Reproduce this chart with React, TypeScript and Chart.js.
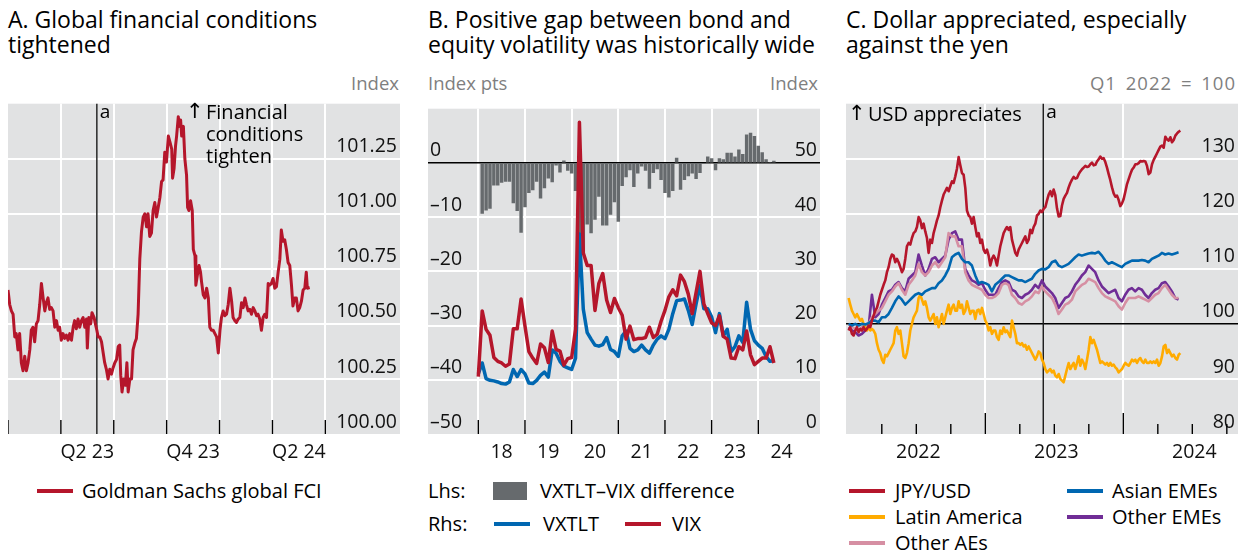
import React, { useEffect, useRef } from "react";
import { Chart, registerables } from "chart.js";

Chart.register(...registerables);

const FONT = '"Open Sans", "Noto Sans", sans-serif';
const ARROW_FONT = '"DejaVu Sans", "Open Sans", sans-serif';
const BG = "rgb(225,226,227)";
const RED = "rgb(181,22,43)";
const BLUE = "rgb(0,103,177)";
const ORANGE = "rgb(255,171,0)";
const PURPLE = "rgb(112,45,150)";
const PINK = "rgb(214,143,163)";
const GREYBAR = "rgb(102,106,109)";
const TICK_FONT = { family: FONT, size: 19.5 };

// ---------------- Panel A: Goldman Sachs global FCI (decimal year, index) ----------------
const fciDates = [
  2023.000, 2023.008, 2023.016, 2023.024, 2023.032, 2023.039, 2023.047, 2023.055, 2023.063, 2023.071,
  2023.079, 2023.087, 2023.095, 2023.103, 2023.110, 2023.118, 2023.126, 2023.134, 2023.142, 2023.150,
  2023.158, 2023.166, 2023.174, 2023.181, 2023.189, 2023.197, 2023.205, 2023.213, 2023.221, 2023.229,
  2023.237, 2023.244, 2023.252, 2023.260, 2023.268, 2023.276, 2023.284, 2023.292, 2023.300, 2023.308,
  2023.315, 2023.323, 2023.331, 2023.339, 2023.347, 2023.355, 2023.363, 2023.371,
  2023.375, 2023.382, 2023.391, 2023.397, 2023.407, 2023.413, 2023.420,
  2023.426, 2023.434, 2023.442, 2023.450, 2023.457, 2023.465, 2023.473, 2023.481, 2023.489, 2023.497,
  2023.505, 2023.513, 2023.521, 2023.528,
  2023.533, 2023.539, 2023.547, 2023.555, 2023.562, 2023.568,
  2023.576, 2023.584, 2023.591, 2023.599, 2023.607, 2023.615, 2023.623, 2023.631, 2023.639, 2023.647,
  2023.655, 2023.662, 2023.670, 2023.678, 2023.686, 2023.694, 2023.702, 2023.710, 2023.718, 2023.726,
  2023.733, 2023.741, 2023.749,
  2023.758, 2023.766, 2023.774, 2023.778, 2023.785, 2023.792, 2023.797, 2023.805, 2023.810, 2023.816,
  2023.821, 2023.829, 2023.836, 2023.844, 2023.849, 2023.855, 2023.863, 2023.871, 2023.876, 2023.884,
  2023.888, 2023.895, 2023.903, 2023.910, 2023.915,
  2023.923, 2023.931, 2023.939, 2023.947, 2023.954, 2023.962, 2023.970, 2023.978, 2023.986, 2023.994,
  2024.002, 2024.009, 2024.017, 2024.025, 2024.033, 2024.041, 2024.049, 2024.057, 2024.064, 2024.072,
  2024.080, 2024.088, 2024.096, 2024.104, 2024.112, 2024.120, 2024.127, 2024.135, 2024.143, 2024.151,
  2024.159, 2024.167, 2024.175, 2024.182, 2024.190, 2024.198, 2024.206, 2024.214, 2024.222, 2024.230,
  2024.237, 2024.245, 2024.253, 2024.261, 2024.269, 2024.277, 2024.285, 2024.292, 2024.300, 2024.308,
  2024.316, 2024.324, 2024.332, 2024.340, 2024.347, 2024.355, 2024.363, 2024.371, 2024.379, 2024.387,
  2024.395, 2024.403, 2024.410, 2024.415, 2024.426,
];
const fciValues = [
  100.654, 100.588, 100.559, 100.544, 100.441, 100.456, 100.382, 100.456, 100.324, 100.287,
  100.353, 100.287, 100.324, 100.382, 100.471, 100.485, 100.419, 100.500, 100.515, 100.588,
  100.684, 100.618, 100.559, 100.596, 100.618, 100.566, 100.574, 100.559, 100.485, 100.515,
  100.471, 100.485, 100.426, 100.456, 100.434, 100.449, 100.426, 100.456, 100.426, 100.485,
  100.515, 100.478, 100.522, 100.485, 100.515, 100.529, 100.485, 100.522,
  100.390, 100.529, 100.500, 100.551, 100.529, 100.500, 100.471,
  100.441, 100.441, 100.419, 100.368, 100.324, 100.294, 100.250, 100.294, 100.272, 100.301,
  100.324, 100.338, 100.397, 100.404,
  100.265, 100.191, 100.250, 100.221, 100.324, 100.191,
  100.250, 100.250, 100.382, 100.412, 100.434, 100.544, 100.794, 100.919, 100.985, 101.000,
  100.941, 101.000, 100.897, 100.912, 101.015, 101.051, 100.985, 101.029, 101.074, 101.147,
  101.154, 101.279, 101.235,
  101.353, 101.324, 101.294, 101.162, 101.206, 101.309, 101.353, 101.441, 101.397, 101.426,
  101.353, 101.397, 101.250, 101.176, 101.029, 101.015, 101.059, 101.015, 100.838, 100.809,
  100.676, 100.721, 100.765, 100.735, 100.691,
  100.632, 100.618, 100.662, 100.618, 100.485, 100.471, 100.471, 100.456, 100.441, 100.368,
  100.471, 100.529, 100.559, 100.537, 100.544, 100.588, 100.662, 100.603, 100.529, 100.515,
  100.507, 100.522, 100.529, 100.596, 100.574, 100.618, 100.588, 100.559, 100.566, 100.544,
  100.574, 100.559, 100.537, 100.544, 100.522, 100.471, 100.529, 100.544, 100.529, 100.684,
  100.676, 100.684, 100.706, 100.662, 100.669, 100.735, 100.794, 100.926, 100.875, 100.882,
  100.838, 100.779, 100.765, 100.676, 100.581, 100.618, 100.618, 100.559, 100.574, 100.603,
  100.654, 100.662, 100.735, 100.662, 100.665,
];
const fciQuarterTicks = [2023, 2023.25, 2023.5, 2023.75, 2024, 2024.25, 2024.5];
const fciQuarterLabels = ["", "Q2 23", "", "Q4 23", "", "Q2 24", ""];
const fciYTicks = [100, 100.25, 100.5, 100.75, 101, 101.25];
const eventA = 2023.42; // marker "a"

// ---------------- Panel B: monthly volatility ----------------
// Bars: VXTLT–VIX difference, monthly Feb 2018 .. May 2024
const gapValues = [
  -9.3, -8.7, -8.4, -4.1, -4.1, -3.6, -3.4, -3.4, -7.4, -8.8,
  -12.8, -8.1, -5.5, -5.0, -3.4, -6.5, -4.6, -2.8, -3.5, -0.4,
  -1.7, 0.4, -1.4, -1.9, -5.1, -20.7, -16.5, -11.3, -12.9, -10.4,
  -6.2, -11.5, -11.5, -9.5, -7.2, -10.8, -4.2, -2.6, -1.3, -4.4,
  -1.9, -0.6, -1.4, -4.7, -1.8, -1.1, -3.1, -5.5, -6.3, -5.1,
  0.9, -4.9, -3.1, -2.4, -1.9, -2.9, -1.8, -0.1, 1.1, 0.8,
  -1.3, 0.8, 0.6, 1.8, 1.8, 1.1, 2.4, 1.6, 5.2, 5.5,
  4.9, 3.1, 1.9, 0.6, 0, 0.35,
];
// Lines: monthly Jan 2018 .. May 2024
const vxtltValues = [
  11.1,
  13.1, 10.2, 9.9, 9.8, 9.6, 9.3, 9.2, 9.6, 11.9, 10.6,
  11.9, 11.1, 9.4, 9.3, 9.9, 10.8, 11.4, 10.5, 15.5, 14.9,
  13.4, 12.5, 12.2, 11.9, 14.0, 36.9,
  23.0, 18.7, 17.5, 16.4, 16.2, 16.5, 17.8, 15.6, 15.2, 14.3, 18.1, 19.0, 15.8, 15.2, 15.5,
  16.4, 15.5, 14.9, 16.4, 17.5, 18.1, 17.6, 19.3, 22.2, 24.6,
  24.7, 24.9, 22.8, 20.2, 24.0, 27.4, 23.1, 23.1, 21.6, 18.7,
  22.2, 18.1, 19.3, 15.2, 16.1, 18.1, 16.9, 24.3, 19.3, 17.2,
  16.4, 15.8, 14.3, 13.4, 13.5,
];
const vixValues = [
  10.6,
  22.7, 19.3, 18.2, 14.1, 13.4, 13.1, 12.5, 12.9, 19.4, 19.4,
  24.9, 19.9, 15.2, 14.0, 13.0, 16.6, 15.9, 13.2, 19.0, 15.6,
  15.3, 12.7, 13.9, 14.1, 19.3, 57.5, 33.4, 31.1, 31.1, 22.8,
  27.8, 29.6, 24.7, 22.4, 25.0, 23.3, 21.9, 17.5, 19.9, 17.4,
  17.6,
  17.6, 17.8, 19.7, 17.8, 18.4, 20.8, 22.8, 25.3, 26.6, 25.5,
  29.3, 28.1, 25.8, 22.2, 26.1, 30.0, 24.0, 22.2, 20.5, 20.0,
  21.8, 18.0, 17.5, 14.0, 13.9, 16.1, 15.5, 19.0, 14.6, 12.8,
  13.4, 14.0, 14.0, 16.1, 13.1,
];
const volYearTicks = [2018, 2019, 2020, 2021, 2022, 2023, 2024];
const volYearLabels = ["18", "19", "20", "21", "22", "23", "24"];
const gapTicks = [-50, -40, -30, -20, -10, 0];
const levelTicks = [0, 10, 20, 30, 40, 50];

// ---------------- Panel C: exchange rates, Q1 2022 = 100 ----------------
// JPY/USD and Latin America sampled every ~4.4 days from early Jan 2022
const jpyUsd = [
  98.8, 99.4, 98.2, 97.9, 98.8, 99.4, 98.5, 99.1, 98.8, 99.4,
  98.8, 99.1, 99.7, 99.4, 100.6, 101.5, 102.4, 102.9, 104.1, 105.3,
  106.2, 107.1, 107.9, 109.4, 110.3, 111.8, 112.6, 112.4, 111.2, 111.8,
  111.2, 110.3, 109.4, 110.0, 111.8, 114.1, 114.7, 114.4, 115.6, 116.5,
  116.8, 117.6, 119.4, 118.8, 117.4, 118.2, 116.8, 115.6, 112.9, 115.3,
  114.7, 116.5, 117.6, 118.8, 119.7, 121.2, 122.4, 123.5, 124.1, 124.7,
  124.1, 125.0, 125.9, 125.6, 126.8, 128.2, 130.3, 128.8, 127.4, 127.1,
  124.7, 120.6, 119.7, 119.4, 118.2, 119.4, 117.6, 115.9, 116.5, 114.7,
  115.3, 113.5, 112.9, 113.5, 112.4, 110.6, 111.8, 112.4, 111.8, 110.6,
  112.4, 114.1, 115.3, 116.5, 117.1, 117.6, 117.1, 117.6,
  115.3, 114.1, 112.9, 112.4, 113.5, 114.1, 114.7, 115.3, 115.9, 114.7,
  115.3, 117.1, 116.5, 117.6, 118.2, 119.7, 120.0, 120.6, 120.3, 120.9,
  121.2, 122.4, 123.5, 124.1, 123.2, 124.4, 123.4, 121.0, 119.5, 119.6,
  121.5, 122.7, 123.3, 123.8, 124.8, 125.6, 126.2, 126.7, 126.4, 126.5,
  127.2, 127.7, 128.1, 128.4, 128.7, 128.5, 128.6, 129.0, 129.3, 128.8,
  128.9, 129.5, 129.9, 130.4, 130.0, 130.1, 129.4, 128.4, 127.2, 126.1,
  124.8, 123.7, 123.1, 123.3, 122.5, 121.4, 121.9, 122.7, 124.0, 125.4,
  126.3, 127.2, 128.0, 128.4, 129.0, 129.0, 129.2, 129.6, 129.5, 129.6,
  129.5, 128.7, 127.2, 127.5, 129.0, 129.8, 130.4, 131.0, 131.6, 132.2,
  132.4, 132.0, 134.0, 133.5, 133.3, 133.9, 133.0, 133.4, 134.2, 134.6,
  134.9, 135.1,
];
const latinAmerica = [
  104.7, 103.5, 102.4, 101.8, 101.2, 101.8, 101.2, 100.6, 100.9, 100.0,
  99.4, 98.8, 99.4, 98.8, 99.1, 98.8, 98.2, 96.5, 95.3, 94.7,
  93.5, 92.9, 94.4, 94.1, 94.7, 95.3, 95.9, 96.5, 98.8, 99.4,
  98.2, 98.8, 96.5, 94.1, 93.8, 94.7, 96.5, 98.8, 100.0, 101.2,
  101.8, 102.4, 104.7, 105.3, 104.4, 103.5, 104.1, 102.9, 101.2, 100.6,
  101.2, 101.8, 100.0, 101.2, 99.4, 100.6, 101.8, 100.0, 101.2, 102.4,
  103.5, 101.8, 102.9, 103.5, 102.4, 102.4, 104.1, 102.9, 103.5, 101.8,
  102.4, 104.1, 102.9, 101.8, 102.4, 102.4, 100.9, 102.4, 102.6, 101.8,
  102.9, 101.8, 100.6, 100.0, 98.8, 99.4, 98.2, 98.8, 98.8, 97.6,
  97.1, 98.8, 98.2, 99.4, 98.5, 98.8, 98.2, 97.6,
  100.6, 99.4, 98.2, 96.5, 96.5, 96.2, 96.5, 95.9, 96.2, 95.3,
  95.9, 95.3, 94.7, 94.1, 93.5, 94.1, 95.0, 94.7, 93.5, 92.9,
  91.8, 91.2, 91.5, 91.8, 91.2, 91.5, 90.6, 90.3, 90.9, 90.0,
  89.7, 89.4, 90.6, 91.8, 92.9, 91.8, 92.4, 92.9, 91.8, 92.9,
  94.1, 92.4, 93.5, 92.9, 91.8, 93.5, 95.3, 97.6, 96.5, 97.1,
  96.2, 95.3, 94.1, 92.9, 93.2, 92.9, 92.6, 92.9, 92.4, 92.9,
  92.4, 92.6, 92.1, 91.8, 91.2, 91.5, 91.8, 92.4, 92.9, 92.6,
  92.4, 92.9, 93.5, 93.2, 93.5, 92.9, 93.5, 93.8, 93.2, 92.9,
  93.5, 92.9, 92.9, 93.2, 92.9, 93.2, 92.9, 93.5, 92.4, 92.9,
  94.1, 95.9, 96.2, 94.7, 95.3, 94.7, 94.1, 94.4, 93.8, 93.5,
  94.4, 94.7,
];
// Asian EMEs, Other EMEs, Other AEs sampled every ~8.8 days from early Jan 2022
const asianEmes = [
  100.0, 99.7, 100.0, 99.7, 100.0, 99.9, 100.1, 100.6, 100.6, 100.3,
  101.2, 101.2, 101.8, 102.9, 104.1, 105.0, 104.4, 103.5, 104.1, 104.7,
  105.3, 105.6, 105.3, 105.9, 106.2, 106.5, 106.5, 107.4, 107.9, 108.8,
  110.0, 112.1, 112.6, 112.9, 111.8, 111.2, 111.2, 110.6, 108.8, 107.4,
  107.6, 107.4, 107.1, 105.9, 107.1, 107.6, 108.2, 108.8, 108.8,
  108.5, 108.2, 107.9, 107.9, 107.6, 107.9, 108.2, 109.1, 109.7, 110.0,
  109.9, 110.3, 111.2, 111.5, 110.6, 110.3, 110.6, 110.9, 111.5, 112.1,
  112.6, 112.4, 112.6, 112.8, 112.9, 112.8, 113.1, 112.4, 111.5, 110.9,
  111.2, 110.9, 110.6, 110.3, 110.9, 111.2, 111.5, 111.5, 111.5, 111.6,
  111.5, 111.2, 111.8, 112.1, 112.4, 112.9, 112.6, 112.8, 112.6, 112.8,
  113.0,
];
const otherEmes = [
  99.4, 98.8, 98.5, 97.9, 98.2, 98.8, 99.4, 105.3, 101.2, 101.8,
  103.5, 104.7, 105.9, 106.2, 107.1, 107.6, 106.5, 105.9, 108.2, 108.8,
  109.4, 112.6, 110.6, 108.8, 110.0, 111.8, 112.1, 111.2, 111.8, 112.4,
  115.3, 116.5, 116.8, 115.3, 115.3, 110.0, 108.8, 107.9, 107.6, 107.1,
  107.4, 106.2, 105.3, 105.3, 105.3, 106.5, 107.6, 107.9, 107.6,
  106.2, 105.9, 105.0, 104.7, 105.3, 105.6, 106.2, 107.1, 106.5, 107.9,
  106.8, 106.2, 105.6, 104.7, 102.9, 103.8, 104.7, 105.0, 105.9, 107.1,
  107.9, 108.8, 109.4, 110.6, 110.0, 109.4, 107.9, 106.8, 106.2, 105.6,
  105.9, 106.2, 104.7, 104.1, 105.3, 106.2, 106.5, 105.9, 106.5, 106.2,
  105.3, 104.7, 105.6, 106.2, 106.5, 107.4, 107.6, 106.8, 105.9, 104.7,
  104.4,
];
const otherAes = [
  100.0, 99.4, 99.1, 98.8, 99.4, 99.7, 100.0, 101.2, 101.8, 102.4,
  102.9, 104.1, 105.3, 105.9, 106.8, 107.4, 106.2, 105.3, 107.1, 107.9,
  108.8, 110.9, 109.4, 108.8, 109.4, 110.6, 111.2, 110.3, 111.2, 112.1,
  116.5, 115.9, 115.9, 114.1, 114.1, 109.4, 107.9, 107.1, 106.8, 106.5,
  106.2, 105.3, 104.7, 104.7, 105.0, 105.6, 107.1, 107.4, 107.1,
  105.3, 104.7, 103.8, 103.5, 104.1, 104.4, 105.0, 105.9, 105.6, 106.8,
  105.9, 105.3, 104.7, 103.5, 101.8, 102.6, 103.5, 103.8, 104.4, 105.9,
  106.5, 107.1, 107.4, 108.2, 107.9, 107.6, 106.5, 105.6, 105.0, 104.7,
  104.4, 104.1, 103.2, 102.6, 103.8, 104.7, 104.7, 104.7, 105.0, 104.7,
  104.4, 104.1, 104.7, 105.3, 105.6, 106.5, 107.1, 106.2, 105.3, 104.7,
  104.7,
];
const fxStart = 2022.0094; // first observation (decimal year)
const fxStepShort = 0.01208; // ~4.4 days
const fxStepLong = 0.02415; // ~8.8 days
const fxQuarterTicks = [2022, 2022.25, 2022.5, 2022.75, 2023, 2023.25, 2023.5, 2023.75, 2024, 2024.25, 2024.5, 2024.75];
const fxYTicks = [80, 90, 100, 110, 120, 130];
const eventC = 2023.42; // marker "a"

// ---------------- helpers ----------------
const TRANSPARENT = "rgba(0,0,0,0)";

const bgPlugin = {
  id: "panelBg",
  beforeDraw(chart: any) {
    const { ctx, chartArea: a } = chart;
    ctx.save();
    ctx.fillStyle = BG;
    ctx.fillRect(a.left, a.top, a.right - a.left, a.bottom - a.top);
    ctx.restore();
  },
};

function innerTicks(lenFor: (v: number) => number) {
  return {
    id: "innerTicks",
    beforeDatasetsDraw(chart: any) {
      const sx = chart.scales.x;
      const { ctx, chartArea: a } = chart;
      ctx.save();
      ctx.strokeStyle = "#000";
      ctx.lineWidth = 1.4;
      sx.ticks.forEach((t: any) => {
        const len = lenFor(t.value);
        if (!len) return;
        const px = sx.getPixelForValue(t.value);
        ctx.beginPath();
        ctx.moveTo(px, a.bottom);
        ctx.lineTo(px, a.bottom - len);
        ctx.stroke();
      });
      ctx.restore();
    },
  };
}

function eventLine(value: number, text: string) {
  return {
    id: "eventLine",
    beforeDatasetsDraw(chart: any) {
      const sx = chart.scales.x;
      const { ctx, chartArea: a } = chart;
      const px = sx.getPixelForValue(value);
      ctx.save();
      ctx.strokeStyle = "#1a1a1a";
      ctx.lineWidth = 1.4;
      ctx.beginPath();
      ctx.moveTo(px, a.top);
      ctx.lineTo(px, a.bottom);
      ctx.stroke();
      ctx.fillStyle = "#000";
      ctx.font = `19px ${FONT}`;
      ctx.textBaseline = "middle";
      ctx.textAlign = "left";
      ctx.fillText(text, px + 3, a.top + 9);
      ctx.restore();
    },
  };
}

const baseOptions = {
  responsive: false,
  maintainAspectRatio: false,
  animation: false,
  layout: { padding: 0 },
  plugins: { legend: { display: false }, tooltip: { enabled: false }, title: { display: false } },
  elements: { point: { radius: 0 }, line: { tension: 0, borderJoinStyle: "round" } },
};

function xAxis(min: number, max: number, ticks: number[], labelFor: (v: number) => string, gridFor: (v: number) => boolean, labelOffset: number) {
  return {
    type: "linear",
    position: "bottom",
    min,
    max,
    offset: false,
    afterBuildTicks: (s: any) => {
      s.ticks = ticks.map((v) => ({ value: v }));
    },
    afterFit: (s: any) => {
      s.height = 41;
      s.paddingLeft = 0;
      s.paddingRight = 0;
    },
    grid: {
      offset: false,
      drawTicks: false,
      lineWidth: 2,
      color: (c: any) => (c.tick && gridFor(c.tick.value) ? "#fff" : TRANSPARENT),
    },
    border: { display: false },
    ticks: {
      autoSkip: false,
      maxRotation: 0,
      minRotation: 0,
      padding: 7,
      labelOffset,
      color: "#111",
      font: TICK_FONT,
      callback: (v: any) => labelFor(Number(v)),
    },
  };
}

function yAxis(position: string, min: number, max: number, ticks: number[], fmt: (v: number) => string, gridColor: ((v: number) => string) | null, padding: number) {
  return {
    type: "linear",
    position,
    min,
    max,
    afterBuildTicks: (s: any) => {
      s.ticks = ticks.map((v) => ({ value: v }));
    },
    afterFit: (s: any) => {
      s.width = 0;
    },
    grid: gridColor
      ? {
          drawTicks: false,
          lineWidth: (c: any) => (c.tick && gridColor(c.tick.value) === "#000" ? 1.4 : 2),
          color: (c: any) => (c.tick ? gridColor(c.tick.value) : TRANSPARENT),
        }
      : { drawTicks: false, drawOnChartArea: false },
    border: { display: false },
    ticks: {
      mirror: true,
      padding,
      labelOffset: -12,
      color: "#111",
      font: TICK_FONT,
      callback: (v: any) => fmt(Number(v)),
    },
  };
}

function ChartBox({ left, top, width, height, build }: any) {
  const ref = useRef<HTMLCanvasElement>(null);
  useEffect(() => {
    const chart = new Chart(ref.current as HTMLCanvasElement, build());
    return () => chart.destroy();
  }, []);
  return (
    <canvas
      ref={ref}
      width={width}
      height={height}
      style={{ position: "absolute", left, top, width, height, display: "block" }}
    />
  );
}

function Txt({ x, y, size = 19, color = "#000", align = "left", family = FONT, extra = {}, children }: any) {
  const style: any = {
    position: "absolute",
    top: y - size * 0.72,
    fontSize: size,
    lineHeight: `${Math.round(size * 1.36)}px`,
    color,
    whiteSpace: "nowrap",
    fontFamily: family,
    ...extra,
  };
  if (align === "right") style.right = 1249 - x;
  else style.left = x;
  return <div style={style}>{children}</div>;
}

function Title({ x, lines }: any) {
  return (
    <div
      style={{
        position: "absolute",
        left: x,
        top: 7,
        fontSize: 23,
        lineHeight: "25px",
        fontFamily: FONT,
        color: "#000",
        whiteSpace: "nowrap",
      }}
    >
      {lines.map((l: string, i: number) => (
        <div key={i}>{l}</div>
      ))}
    </div>
  );
}

function LineSwatch({ x, y, w = 36, color, t = 3.5 }: any) {
  return <div style={{ position: "absolute", left: x, top: y - t / 2, width: w, height: t, background: color }} />;
}

// ---------------- chart builders ----------------
const buildA = () => ({
  type: "line",
  data: {
    datasets: [
      {
        data: fciDates.map((x, i) => ({ x, y: fciValues[i] })),
        borderColor: RED,
        borderWidth: 3,
      },
    ],
  },
  options: {
    ...baseOptions,
    scales: {
      x: xAxis(
        2023,
        2024.853,
        fciQuarterTicks,
        (v) => fciQuarterLabels[fciQuarterTicks.indexOf(v)] || "",
        (v) => v > 2023,
        26.4
      ),
      y: yAxis("right", 100, 101.5, fciYTicks, (v) => v.toFixed(2), (v) => (v === 100 ? TRANSPARENT : "#fff"), -3),
    },
  },
  plugins: [bgPlugin, innerTicks(() => 14), eventLine(eventA, "a")],
});

const buildB = () => {
  const barPts = gapValues.map((y, k) => ({ x: 2018 + (k + 1) / 12, y }));
  const vxtltPts = vxtltValues.map((y, j) => ({ x: 2018 + j / 12, y }));
  const vixPts = vixValues.map((y, j) => ({ x: 2018 + j / 12, y }));
  return {
    type: "line",
    data: {
      datasets: [
        { type: "line", data: vixPts, borderColor: RED, borderWidth: 3.5, yAxisID: "yR", order: 1 },
        { type: "line", data: vxtltPts, borderColor: BLUE, borderWidth: 3.5, yAxisID: "yR", order: 2 },
        {
          type: "bar",
          data: barPts,
          backgroundColor: GREYBAR,
          barThickness: 2.8,
          yAxisID: "yL",
          order: 3,
        },
      ],
    },
    options: {
      ...baseOptions,
      scales: {
        x: xAxis(
          2016.922,
          2025.322,
          volYearTicks,
          (v) => volYearLabels[volYearTicks.indexOf(v)] || "",
          () => true,
          23.3
        ),
        yL: yAxis(
          "left",
          -50,
          10,
          gapTicks,
          (v) => (v < 0 ? "\u2013" + Math.abs(v) : String(v)),
          (v) => (v === -50 ? TRANSPARENT : v === 0 ? "#000" : "#fff"),
          2
        ),
        yR: yAxis("right", 0, 60, levelTicks, (v) => String(v), null, -3),
      },
    },
    plugins: [bgPlugin, innerTicks(() => 14)],
  };
};

const buildC = () => {
  const shortPts = (arr: number[]) => arr.map((y, i) => ({ x: fxStart + i * fxStepShort, y }));
  const longPts = (arr: number[]) => arr.map((y, i) => ({ x: fxStart + i * fxStepLong, y }));
  return {
    type: "line",
    data: {
      datasets: [
        { data: shortPts(jpyUsd), borderColor: RED, borderWidth: 2.6 },
        { data: longPts(asianEmes), borderColor: BLUE, borderWidth: 2.6 },
        { data: shortPts(latinAmerica), borderColor: ORANGE, borderWidth: 2.6 },
        { data: longPts(otherAes), borderColor: PINK, borderWidth: 2.6 },
        { data: longPts(otherEmes), borderColor: PURPLE, borderWidth: 2.6 },
      ],
    },
    options: {
      ...baseOptions,
      scales: {
        x: xAxis(
          2021.9906,
          2024.831,
          fxQuarterTicks,
          (v) => (Number.isInteger(v) ? String(v) : ""),
          (v) => Number.isInteger(v) && v > 2022,
          71
        ),
        y: yAxis(
          "right",
          80,
          140,
          fxYTicks,
          (v) => String(v),
          (v) => (v === 80 ? TRANSPARENT : v === 100 ? "#000" : "#fff"),
          -3
        ),
      },
    },
    plugins: [
      bgPlugin,
      innerTicks((v) => (v === 2022 ? 0 : Number.isInteger(v) ? 21 : 10)),
      eventLine(eventC, "a"),
    ],
  };
};

export default function App() {
  return (
    <div
      style={{
        position: "absolute",
        left: 0,
        top: 0,
        width: 1249,
        height: 553,
        background: "#fff",
        fontFamily: FONT,
        overflow: "hidden",
      }}
    >
      <Title x={8} lines={["A. Global financial conditions", "tightened"]} />
      <Title x={428} lines={["B. Positive gap between bond and", "equity volatility was historically wide"]} />
      <Title x={846} lines={["C. Dollar appreciated, especially", "against the yen"]} />

      <Txt x={399} y={83} size={18.5} color="#7f7f7f" align="right">Index</Txt>
      <Txt x={428} y={83} size={18.5} color="#7f7f7f">Index pts</Txt>
      <Txt x={818} y={83} size={18.5} color="#7f7f7f" align="right">Index</Txt>
      <Txt x={1236} y={83} size={18.5} color="#7f7f7f" align="right" extra={{ letterSpacing: "1px", wordSpacing: "3px" }}>
        Q1 2022 = 100
      </Txt>

      <ChartBox left={8} top={95} width={392} height={380} build={buildA} />
      <ChartBox left={428} top={95} width={392} height={380} build={buildB} />
      <ChartBox left={846} top={95} width={392} height={380} build={buildC} />

      {/* in-chart annotations */}
      <Txt x={186} y={112} size={21} family={ARROW_FONT}>↑</Txt>
      <Txt x={206} y={112} size={20}>Financial</Txt>
      <Txt x={206} y={134} size={20}>conditions</Txt>
      <Txt x={206} y={156} size={20}>tighten</Txt>
      <Txt x={848} y={114} size={21} family={ARROW_FONT}>↑</Txt>
      <Txt x={868} y={114} size={20}>USD appreciates</Txt>

      {/* legends */}
      <LineSwatch x={37} y={491} color={RED} />
      <Txt x={82} y={491} size={20}>Goldman Sachs global FCI</Txt>

      <Txt x={428} y={491} size={20}>Lhs:</Txt>
      <div style={{ position: "absolute", left: 493, top: 482, width: 34, height: 18, background: GREYBAR }} />
      <Txt x={540} y={491} size={20}>VXTLT–VIX difference</Txt>
      <Txt x={428} y={524} size={20}>Rhs:</Txt>
      <LineSwatch x={494} y={524} color={BLUE} />
      <Txt x={543} y={524} size={20}>VXTLT</Txt>
      <LineSwatch x={625} y={524} color={RED} />
      <Txt x={672} y={524} size={20}>VIX</Txt>

      <LineSwatch x={849} y={491} color={RED} />
      <Txt x={895} y={491} size={20}>JPY/USD</Txt>
      <LineSwatch x={849} y={517} color={ORANGE} />
      <Txt x={895} y={517} size={20}>Latin America</Txt>
      <LineSwatch x={849} y={543} color={PINK} />
      <Txt x={895} y={543} size={20}>Other AEs</Txt>
      <LineSwatch x={1067} y={491} color={BLUE} />
      <Txt x={1112} y={491} size={20}>Asian EMEs</Txt>
      <LineSwatch x={1067} y={517} color={PURPLE} />
      <Txt x={1112} y={517} size={20}>Other EMEs</Txt>
    </div>
  );
}
